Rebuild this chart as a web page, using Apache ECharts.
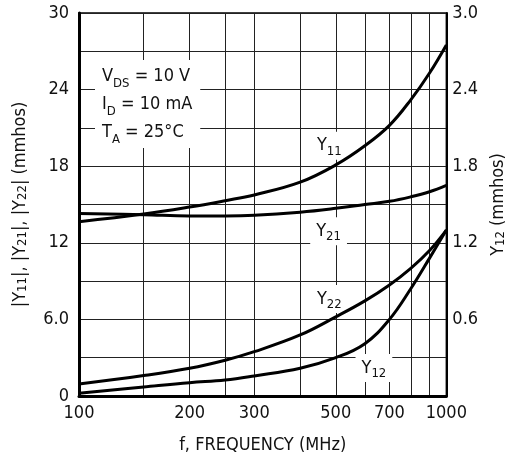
<!DOCTYPE html>
<html>
<head>
<meta charset="utf-8">
<script src="https://cdn.jsdelivr.net/npm/echarts@6/dist/echarts.min.js"></script>
<style>
  html, body { margin: 0; padding: 0; background: #fff; }
  #chart { width: 515px; height: 460px; }
</style>
</head>
<body>
<div id="chart"></div>
<script>
// frequency points (MHz)
const freq = [100, 150, 200, 250, 300, 400, 500, 600, 700, 800, 900, 1000]
// left axis curves (mmhos)
const y11 = [13.65, 14.25, 14.8, 15.3, 15.75, 16.75, 18.1, 19.6, 21.2, 23.2, 25.3, 27.5]
const y21 = [14.3, 14.2, 14.1, 14.1, 14.15, 14.4, 14.7, 15.0, 15.25, 15.6, 16.0, 16.5]
const y22 = [0.94, 1.6, 2.17, 2.8, 3.47, 4.78, 6.2, 7.45, 8.7, 10.0, 11.4, 13.0]
// right axis curve (mmhos)
const y12 = [0.021, 0.07, 0.104, 0.125, 0.157, 0.217, 0.30, 0.41, 0.60, 0.84, 1.08, 1.30]

const xGrid = [100, 150, 200, 250, 300, 400, 500, 600, 700, 800, 900, 1000]
const xLabels = [100, 200, 300, 500, 700, 1000]
const leftLabels = [0, 6, 12, 18, 24, 30]
const rightLabels = [0.6, 1.2, 1.8, 2.4, 3.0]

const FONT = "'DejaVu Sans Condensed', 'Liberation Sans Narrow', sans-serif"
const ink = '#111'
const FS = 18
const sub = { fontSize: 13, lineHeight: 13, verticalAlign: 'bottom', fontFamily: FONT, color: ink }

function pairs (ys) {
  return freq.map((f, i) => [f, ys[i]])
}

// curve label with white box hiding the grid behind it
function tag (num, coord) {
  return {
    symbol: 'rect',
    symbolSize: 0,
    data: [{ coord: coord }],
    label: {
      show: true,
      position: 'inside',
      formatter: 'Y{s|' + num + '}',
      color: ink,
      fontFamily: FONT,
      fontSize: FS,
      lineHeight: 24,
      backgroundColor: '#fff',
      padding: [2, 6],
      rich: { s: sub }
    }
  }
}

function curve (name, ys, axis, mark) {
  return {
    name: name,
    type: 'line',
    yAxisIndex: axis,
    data: pairs(ys),
    smooth: 0.4,
    showSymbol: false,
    lineStyle: { color: '#000', width: 3 },
    markPoint: mark,
    z: 5
  }
}

const myChart = echarts.init(document.getElementById('chart'))

myChart.setOption({
  animation: false,
  textStyle: { fontFamily: FONT },
  grid: {
    left: 79, right: 60, top: 13, bottom: 64,
    show: true, borderColor: '#000', borderWidth: 1.5
  },
  xAxis: {
    type: 'log',
    logBase: 10,
    min: 100,
    max: 1000,
    name: 'f, FREQUENCY (MHz)',
    nameLocation: 'middle',
    nameGap: 40,
    nameTextStyle: { fontSize: FS, color: ink, fontFamily: FONT },
    axisLine: { lineStyle: { color: '#000', width: 3 } },
    axisTick: { show: false, customValues: xGrid },
    splitLine: { show: true, lineStyle: { color: '#222', width: 1 } },
    axisLabel: {
      customValues: xLabels,
      formatter: v => String(v),
      fontSize: FS, color: ink, fontFamily: FONT, margin: 8
    }
  },
  yAxis: [
    {
      type: 'value',
      min: 0,
      max: 30,
      interval: 3,
      name: '|Y{s|11}|, |Y{s|21}|, |Y{s|22}| (mmhos)',
      nameLocation: 'middle',
      nameGap: 50,
      nameTextStyle: { fontSize: FS, color: ink, fontFamily: FONT, rich: { s: sub } },
      axisLine: { show: true, lineStyle: { color: '#000', width: 3 } },
      axisTick: { show: false },
      splitLine: { show: true, lineStyle: { color: '#222', width: 1 } },
      axisLabel: {
        customValues: leftLabels,
        formatter: v => (v === 6 ? '6.0' : String(v)),
        fontSize: FS, color: ink, fontFamily: FONT, margin: 10
      }
    },
    {
      type: 'value',
      min: 0,
      max: 3,
      interval: 0.3,
      position: 'right',
      name: 'Y{s|12} (mmhos)',
      nameLocation: 'middle',
      nameGap: 42,
      nameTextStyle: { fontSize: FS, color: ink, fontFamily: FONT, rich: { s: sub } },
      axisLine: { show: true, lineStyle: { color: '#000', width: 2 } },
      axisTick: { show: false },
      splitLine: { show: false },
      axisLabel: {
        customValues: rightLabels,
        formatter: v => v.toFixed(1),
        fontSize: FS, color: ink, fontFamily: FONT, margin: 6
      }
    }
  ],
  graphic: [
    {
      type: 'text',
      left: 95,
      top: 60,
      z: 10,
      style: {
        text: 'V{s|DS} = 10 V\nI{s|D} = 10 mA\nT{s|A} = 25°C',
        fill: ink,
        font: FS + 'px ' + FONT,
        lineHeight: 28,
        backgroundColor: '#fff',
        padding: [2, 8, 2, 7],
        rich: { s: { fontSize: 13, lineHeight: 13, verticalAlign: 'bottom', fontFamily: FONT, fill: ink } }
      }
    }
  ],
  series: [
    curve('Y11', y11, 0, tag('11', [480, 19.6])),
    curve('Y21', y21, 0, tag('21', [478, 12.9])),
    curve('Y22', y22, 0, tag('22', [480, 7.6])),
    curve('Y12', y12, 1, tag('12', [635, 0.22]))
  ]
})
</script>
</body>
</html>
